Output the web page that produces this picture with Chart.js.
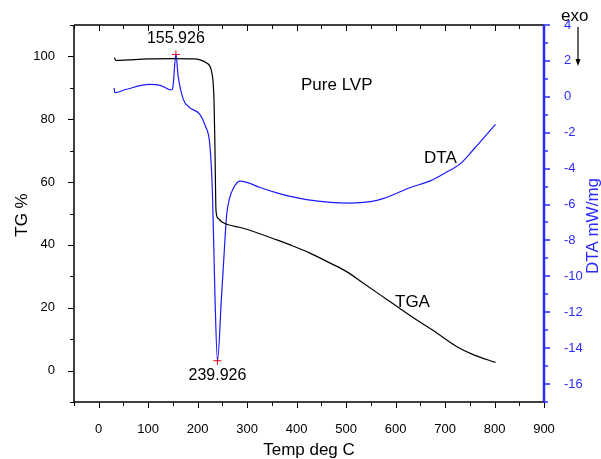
<!DOCTYPE html>
<html>
<head>
<meta charset="utf-8">
<script src="https://cdn.jsdelivr.net/npm/chart.js@4.4.1/dist/chart.umd.min.js"></script>
<style>
  html, body { margin: 0; padding: 0; background: #fff; }
  canvas { display: block; }
</style>
</head>
<body>
<canvas id="tga" width="601" height="459"></canvas>
<script>
// TGA curve (left axis, TG %)
const tgaTemp = [32, 34, 60, 100, 150, 190, 205, 218, 228, 233, 235, 237, 241, 250, 260, 292, 360, 387, 427, 468, 501, 535, 569, 603, 643, 684, 724, 758, 802];
const tgaValue = [99.6, 98.7, 98.9, 99.2, 99.3, 99.2, 98.9, 97.9, 95.2, 86, 70, 51, 48.5, 47.2, 46.5, 45.3, 41.6, 40.0, 37.4, 34.2, 31.5, 27.8, 24.1, 20.4, 16.1, 11.9, 7.6, 5.0, 2.6];

// DTA curve (right axis, mW/mg)
const dtaTemp = [31, 32.5, 56, 103, 124, 147, 150, 156, 160.5, 171, 184, 204, 215, 225, 230, 235, 240, 248, 252, 258.5, 265, 272, 285, 299, 326, 360, 387, 420, 468, 508, 549, 576, 609, 630, 670, 704, 730, 758, 802];
const dtaValue = [0.5, 0.23, 0.42, 0.69, 0.64, 0.38, 0.55, 2.36, 1.16, -0.14, -0.6, -0.97, -1.6, -2.8, -5.5, -11.2, -14.7, -11.2, -9.4, -6.6, -5.6, -5.1, -4.7, -4.77, -5.05, -5.35, -5.55, -5.73, -5.88, -5.92, -5.84, -5.66, -5.29, -5.05, -4.68, -4.18, -3.75, -2.92, -1.53];

// marked DTA peaks
const peakTemp = [155.926, 239.926];
const peakValue = [2.36, -14.7];
const peakLabels = ['155.926', '239.926'];

// axis ticks
const xTicks = [0, 100, 200, 300, 400, 500, 600, 700, 800, 900];
const xMinor = [-50, 50, 150, 250, 350, 450, 550, 650, 750, 850];
const yTicks = [0, 20, 40, 60, 80, 100];
const yMinor = [-10, 10, 30, 50, 70, 90, 110];
const y2Ticks = [-16, -14, -12, -10, -8, -6, -4, -2, 0, 2, 4];
const y2Minor = [-17, -15, -13, -11, -9, -7, -5, -3, -1, 1, 3];

const BLUE = '#2b2bff';
const FONT = '"Liberation Sans", Arial, sans-serif';

const toPoints = (xs, ys) => xs.map((x, i) => ({ x: x, y: ys[i] }));

const frame = {
    id: 'frame',
    afterDraw(chart) {
        const ctx = chart.ctx;
        const a = chart.chartArea;
        const sx = chart.scales.x, sy = chart.scales.y, sy2 = chart.scales.y2;
        ctx.save();

        // black frame lines
        ctx.strokeStyle = '#000';
        ctx.lineWidth = 1.5;
        ctx.beginPath();
        ctx.moveTo(a.left, a.top); ctx.lineTo(a.right, a.top);
        ctx.moveTo(a.left, a.bottom); ctx.lineTo(a.right, a.bottom);
        ctx.moveTo(a.left, a.top); ctx.lineTo(a.left, a.bottom);
        ctx.stroke();

        ctx.lineWidth = 1;
        ctx.beginPath();
        xTicks.forEach(v => {
            const px = Math.round(sx.getPixelForValue(v)) + 0.5;
            ctx.moveTo(px, a.bottom); ctx.lineTo(px, a.bottom + 6);
            ctx.moveTo(px, a.top); ctx.lineTo(px, a.top + 6);
        });
        xMinor.forEach(v => {
            const px = Math.round(sx.getPixelForValue(v)) + 0.5;
            ctx.moveTo(px, a.bottom); ctx.lineTo(px, a.bottom + 4);
            ctx.moveTo(px, a.top); ctx.lineTo(px, a.top + 4);
        });
        yTicks.forEach(v => {
            const py = Math.round(sy.getPixelForValue(v)) + 0.5;
            ctx.moveTo(a.left, py); ctx.lineTo(a.left - 6, py);
        });
        yMinor.forEach(v => {
            const py = Math.round(sy.getPixelForValue(v)) + 0.5;
            ctx.moveTo(a.left, py); ctx.lineTo(a.left - 4, py);
        });
        ctx.stroke();

        // blue right axis
        ctx.strokeStyle = BLUE;
        ctx.lineWidth = 2.5;
        ctx.beginPath();
        ctx.moveTo(a.right, a.top); ctx.lineTo(a.right, a.bottom);
        ctx.stroke();
        ctx.lineWidth = 1.5;
        ctx.beginPath();
        y2Ticks.forEach(v => {
            const py = Math.round(sy2.getPixelForValue(v));
            ctx.moveTo(a.right, py); ctx.lineTo(a.right + 6, py);
        });
        y2Minor.forEach(v => {
            const py = Math.round(sy2.getPixelForValue(v));
            ctx.moveTo(a.right, py); ctx.lineTo(a.right + 4, py);
        });
        ctx.stroke();

        // axis titles
        ctx.fillStyle = '#000';
        ctx.font = '17px ' + FONT;
        ctx.textAlign = 'center';
        ctx.textBaseline = 'alphabetic';
        ctx.fillText('Temp deg C', (a.left + a.right) / 2, 455);

        ctx.save();
        ctx.translate(22, 215);
        ctx.rotate(-Math.PI / 2);
        ctx.textBaseline = 'middle';
        ctx.fillText('TG %', 0, 0);
        ctx.restore();

        ctx.save();
        ctx.translate(593, 226);
        ctx.rotate(-Math.PI / 2);
        ctx.textBaseline = 'middle';
        ctx.fillStyle = BLUE;
        ctx.fillText('DTA mW/mg', 0, 0);
        ctx.restore();

        // peak labels
        ctx.font = '16px ' + FONT;
        ctx.textAlign = 'center';
        peakTemp.forEach((t, i) => {
            const px = sx.getPixelForValue(t);
            const py = sy2.getPixelForValue(peakValue[i]);
            ctx.fillText(peakLabels[i], px, i === 0 ? py - 11 : py + 19);
        });

        // curve labels
        ctx.font = '17px ' + FONT;
        ctx.textAlign = 'left';
        ctx.fillText('Pure LVP', 301, 90);
        ctx.fillText('DTA', 424, 163);
        ctx.fillText('TGA', 395, 307);
        ctx.fillText('exo', 561, 21);

        // exo arrow
        ctx.strokeStyle = '#000';
        ctx.lineWidth = 1.2;
        ctx.beginPath();
        ctx.moveTo(578, 27); ctx.lineTo(578, 60);
        ctx.stroke();
        ctx.beginPath();
        ctx.moveTo(575.5, 59); ctx.lineTo(580.5, 59); ctx.lineTo(578, 66);
        ctx.closePath();
        ctx.fill();

        ctx.restore();
    }
};

new Chart(document.getElementById('tga'), {
    type: 'scatter',
    data: {
        datasets: [
            {
                label: 'TGA',
                data: toPoints(tgaTemp, tgaValue),
                showLine: true,
                borderColor: '#000',
                borderWidth: 1.2,
                pointRadius: 0,
                cubicInterpolationMode: 'monotone',
                yAxisID: 'y',
            },
            {
                label: 'DTA',
                data: toPoints(dtaTemp, dtaValue),
                showLine: true,
                borderColor: '#1a1aff',
                borderWidth: 1.2,
                pointRadius: 0,
                cubicInterpolationMode: 'monotone',
                yAxisID: 'y2',
            },
            {
                label: 'peaks',
                data: toPoints(peakTemp, peakValue),
                showLine: false,
                pointStyle: 'cross',
                pointRadius: 4,
                borderColor: '#ff0000',
                borderWidth: 1,
                yAxisID: 'y2',
            },
        ],
    },
    options: {
        responsive: false,
        animation: false,
        devicePixelRatio: 1,
        layout: { padding: { top: 25, left: 0, right: 0, bottom: 0 } },
        plugins: {
            legend: { display: false },
            tooltip: { enabled: false },
        },
        scales: {
            x: {
                type: 'linear',
                min: -50,
                max: 900,
                afterBuildTicks: s => { s.ticks = xTicks.map(v => ({ value: v })); },
                afterFit: s => { s.height = 57; },
                grid: { display: false },
                border: { display: false },
                ticks: { color: '#000', font: { family: FONT, size: 13 }, padding: 12, maxRotation: 0 },
            },
            y: {
                position: 'left',
                min: -10,
                max: 110,
                afterBuildTicks: s => { s.ticks = yTicks.map(v => ({ value: v })); },
                afterFit: s => { s.width = 74; },
                grid: { display: false },
                border: { display: false },
                ticks: { color: '#000', font: { family: FONT, size: 13 }, padding: 11 },
            },
            y2: {
                position: 'right',
                min: -17,
                max: 4,
                afterBuildTicks: s => { s.ticks = y2Ticks.map(v => ({ value: v })); },
                afterFit: s => { s.width = 57; },
                grid: { display: false },
                border: { display: false },
                ticks: { color: BLUE, font: { family: FONT, size: 13 }, padding: 12 },
            },
        },
    },
    plugins: [frame],
});
</script>
</body>
</html>
